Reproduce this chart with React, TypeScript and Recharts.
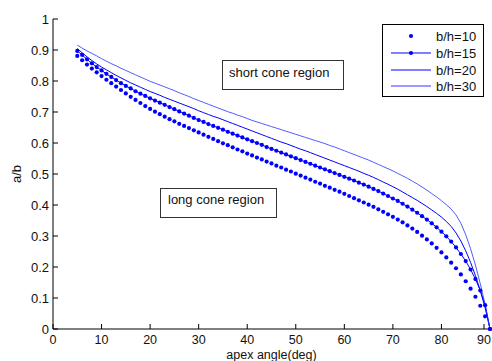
import React from 'react';
import { LineChart, Line, XAxis, YAxis, Legend } from 'recharts';

// apex angle (deg), one sample per degree
const angles = [
  5, 6, 7, 8, 9, 10, 11, 12, 13, 14, 15, 16, 17, 18, 19, 20, 21, 22, 23, 24,
  25, 26, 27, 28, 29, 30, 31, 32, 33, 34, 35, 36, 37, 38, 39, 40, 41, 42, 43, 44,
  45, 46, 47, 48, 49, 50, 51, 52, 53, 54, 55, 56, 57, 58, 59, 60, 61, 62, 63, 64,
  65, 66, 67, 68, 69, 70, 71, 72, 73, 74, 75, 76, 77, 78, 79, 80, 81, 82, 83, 84,
  85, 86, 87, 88, 89, 90,
];

// a/b for each b/h ratio
const bh10 = [
  0.881, 0.867, 0.853, 0.84, 0.828, 0.816, 0.804, 0.793, 0.782, 0.771, 0.76, 0.749, 0.739, 0.729, 0.719, 0.71, 0.701, 0.693, 0.685, 0.677,
  0.67, 0.662, 0.655, 0.648, 0.641, 0.634, 0.627, 0.62, 0.613, 0.606, 0.599, 0.593, 0.586, 0.579, 0.573, 0.566, 0.56, 0.553, 0.547, 0.54,
  0.534, 0.527, 0.521, 0.514, 0.508, 0.501, 0.495, 0.488, 0.482, 0.475, 0.469, 0.462, 0.456, 0.449, 0.443, 0.436, 0.429, 0.422, 0.415, 0.408,
  0.401, 0.394, 0.386, 0.378, 0.37, 0.362, 0.353, 0.344, 0.334, 0.324, 0.313, 0.301, 0.289, 0.276, 0.262, 0.247, 0.231, 0.214, 0.196, 0.176,
  0.154, 0.13, 0.104, 0.075, 0.041, 0,
];
const bh15 = [
  0.897, 0.884, 0.87, 0.857, 0.845, 0.834, 0.823, 0.813, 0.803, 0.793, 0.784, 0.776, 0.767, 0.759, 0.752, 0.744, 0.737, 0.73, 0.723, 0.716,
  0.709, 0.702, 0.695, 0.688, 0.681, 0.674, 0.668, 0.661, 0.655, 0.649, 0.643, 0.636, 0.63, 0.624, 0.618, 0.612, 0.606, 0.6, 0.594, 0.587,
  0.581, 0.575, 0.569, 0.563, 0.557, 0.551, 0.545, 0.539, 0.533, 0.527, 0.521, 0.515, 0.509, 0.503, 0.497, 0.491, 0.485, 0.479, 0.472, 0.466,
  0.459, 0.452, 0.445, 0.437, 0.429, 0.421, 0.413, 0.404, 0.395, 0.385, 0.375, 0.364, 0.353, 0.341, 0.328, 0.314, 0.299, 0.282, 0.263, 0.242,
  0.219, 0.192, 0.161, 0.124, 0.077, 0,
];
const bh20 = [
  0.905, 0.891, 0.878, 0.866, 0.855, 0.845, 0.836, 0.827, 0.818, 0.81, 0.802, 0.794, 0.787, 0.78, 0.773, 0.766, 0.76, 0.754, 0.747, 0.741,
  0.735, 0.729, 0.723, 0.717, 0.711, 0.704, 0.698, 0.692, 0.686, 0.681, 0.675, 0.669, 0.663, 0.657, 0.651, 0.645, 0.639, 0.633, 0.627, 0.621,
  0.615, 0.609, 0.603, 0.598, 0.592, 0.586, 0.58, 0.575, 0.569, 0.563, 0.557, 0.551, 0.545, 0.539, 0.533, 0.527, 0.521, 0.515, 0.509, 0.502,
  0.496, 0.489, 0.482, 0.474, 0.467, 0.459, 0.451, 0.442, 0.433, 0.424, 0.415, 0.405, 0.395, 0.384, 0.373, 0.361, 0.347, 0.331, 0.31, 0.284,
  0.252, 0.215, 0.172, 0.124, 0.068, 0,
];
const bh30 = [
  0.916, 0.906, 0.897, 0.889, 0.881, 0.872, 0.864, 0.856, 0.849, 0.841, 0.834, 0.827, 0.82, 0.813, 0.806, 0.799, 0.793, 0.787, 0.781, 0.775,
  0.769, 0.762, 0.756, 0.75, 0.743, 0.737, 0.731, 0.725, 0.719, 0.713, 0.707, 0.701, 0.696, 0.69, 0.685, 0.679, 0.673, 0.668, 0.663, 0.658,
  0.653, 0.648, 0.643, 0.638, 0.633, 0.628, 0.623, 0.618, 0.613, 0.608, 0.603, 0.598, 0.592, 0.587, 0.581, 0.575, 0.569, 0.563, 0.557, 0.551,
  0.545, 0.538, 0.531, 0.524, 0.517, 0.51, 0.502, 0.494, 0.486, 0.477, 0.468, 0.458, 0.448, 0.437, 0.426, 0.414, 0.401, 0.387, 0.368, 0.341,
  0.304, 0.259, 0.206, 0.146, 0.079, 0,
];

const xTicks = [0, 10, 20, 30, 40, 50, 60, 70, 80, 90];
const yTicks = [0, 0.1, 0.2, 0.3, 0.4, 0.5, 0.6, 0.7, 0.8, 0.9, 1];
const legendNames = ['b/h=10', 'b/h=15', 'b/h=20', 'b/h=30'];

const data = angles.map((a, i) => ({
  angle: a,
  r10: bh10[i],
  r15: bh15[i],
  r20: bh20[i],
  r30: bh30[i],
}));

const FONT = '"Liberation Sans", Arial, sans-serif';
const BLUE = '#0000ff';

const YTick = (props: any) => {
  const { x, y, payload } = props;
  return (
    <g>
      <line x1={x} x2={x + 5} y1={y} y2={y} stroke="#000" />
      <text x={x - 4} y={y} dy={4.5} textAnchor="end" fontSize={13} fontFamily={FONT} fill="#111">
        {payload.value}
      </text>
    </g>
  );
};

const XTick = (props: any) => {
  const { x, y, payload } = props;
  return (
    <g>
      <line x1={x} x2={x} y1={y} y2={y - 5} stroke="#000" />
      <text x={x} y={y + 15} textAnchor="middle" fontSize={12.5} fontFamily={FONT} fill="#111">
        {payload.value}
      </text>
    </g>
  );
};

// legend drawn like the matlab box
const LegendBox = () => {
  const rowY = [11, 28, 45, 61];
  return (
    <div style={{ width: 100, height: 71, border: '1px solid #000', background: '#fff', boxSizing: 'content-box' }}>
      <svg width={100} height={71} style={{ display: 'block' }}>
        {legendNames.map((name, i) => (
          <g key={name}>
            {i > 0 && (
              <line x1={8} x2={48} y1={rowY[i]} y2={rowY[i]} stroke={BLUE} strokeWidth={i === 3 ? 0.8 : 1} />
            )}
            {i < 2 && <circle cx={28} cy={rowY[i]} r={2.1} fill={BLUE} />}
            <text x={53} y={rowY[i]} dy={4.5} fontSize={13} fontFamily={FONT} fill="#111">
              {name}
            </text>
          </g>
        ))}
      </svg>
    </div>
  );
};

export default function App() {
  return (
    <div style={{ position: 'absolute', left: 0, top: 0, width: 492, height: 361, background: '#fff' }}>
      <LineChart width={492} height={361} data={data} margin={{ top: 19, right: 2, bottom: 0, left: 0 }}>
        <XAxis
          dataKey="angle"
          type="number"
          domain={[0, 90]}
          ticks={xTicks}
          height={32}
          tickSize={0}
          tickMargin={0}
          tickLine={false}
          tick={<XTick />}
          axisLine={{ stroke: '#000' }}
          label={{
            content: () => (
              <text x={271.5} y={358.5} textAnchor="middle" fontSize={12.5} fontFamily={FONT} fill="#111">
                apex angle(deg)
              </text>
            ),
          }}
        />
        <YAxis
          type="number"
          domain={[0, 1]}
          ticks={yTicks}
          width={53}
          tickSize={0}
          tickMargin={0}
          tickLine={false}
          tick={<YTick />}
          axisLine={{ stroke: '#000' }}
          label={{
            content: () => (
              <text
                x={20.5}
                y={174}
                textAnchor="middle"
                fontSize={13}
                fontFamily={FONT}
                fill="#111"
                transform="rotate(-90 20.5 174)"
              >
                a/b
              </text>
            ),
          }}
        />
        <Legend
          layout="horizontal"
          verticalAlign="middle"
          align="center"
          wrapperStyle={{ position: 'absolute', left: 382, top: 24, width: 102, height: 73 }}
          content={() => <LegendBox />}
        />
        <Line
          dataKey="r10"
          name="b/h=10"
          type="linear"
          stroke="none"
          dot={{ r: 2.1, fill: BLUE, stroke: 'none' }}
          isAnimationActive={false}
        />
        <Line
          dataKey="r15"
          name="b/h=15"
          type="linear"
          stroke={BLUE}
          strokeWidth={1}
          dot={{ r: 2.1, fill: BLUE, stroke: 'none' }}
          isAnimationActive={false}
        />
        <Line dataKey="r20" name="b/h=20" type="linear" stroke={BLUE} strokeWidth={1} dot={false} isAnimationActive={false} />
        <Line dataKey="r30" name="b/h=30" type="linear" stroke="#2233ff" strokeWidth={0.8} dot={false} isAnimationActive={false} />
      </LineChart>

      <svg width={492} height={361} style={{ position: 'absolute', left: 0, top: 0, pointerEvents: 'none' }}>
        <rect x={222.5} y={60.5} width={121} height={29} fill="#fff" stroke="#333" />
        <text x={229} y={76.5} fontSize={13} fontFamily={FONT} fill="#111">
          short cone region
        </text>
        <rect x={160.5} y={188.5} width={116} height={29} fill="#fff" stroke="#333" />
        <text x={168} y={204} fontSize={13} fontFamily={FONT} fill="#111">
          long cone region
        </text>
      </svg>
    </div>
  );
}
